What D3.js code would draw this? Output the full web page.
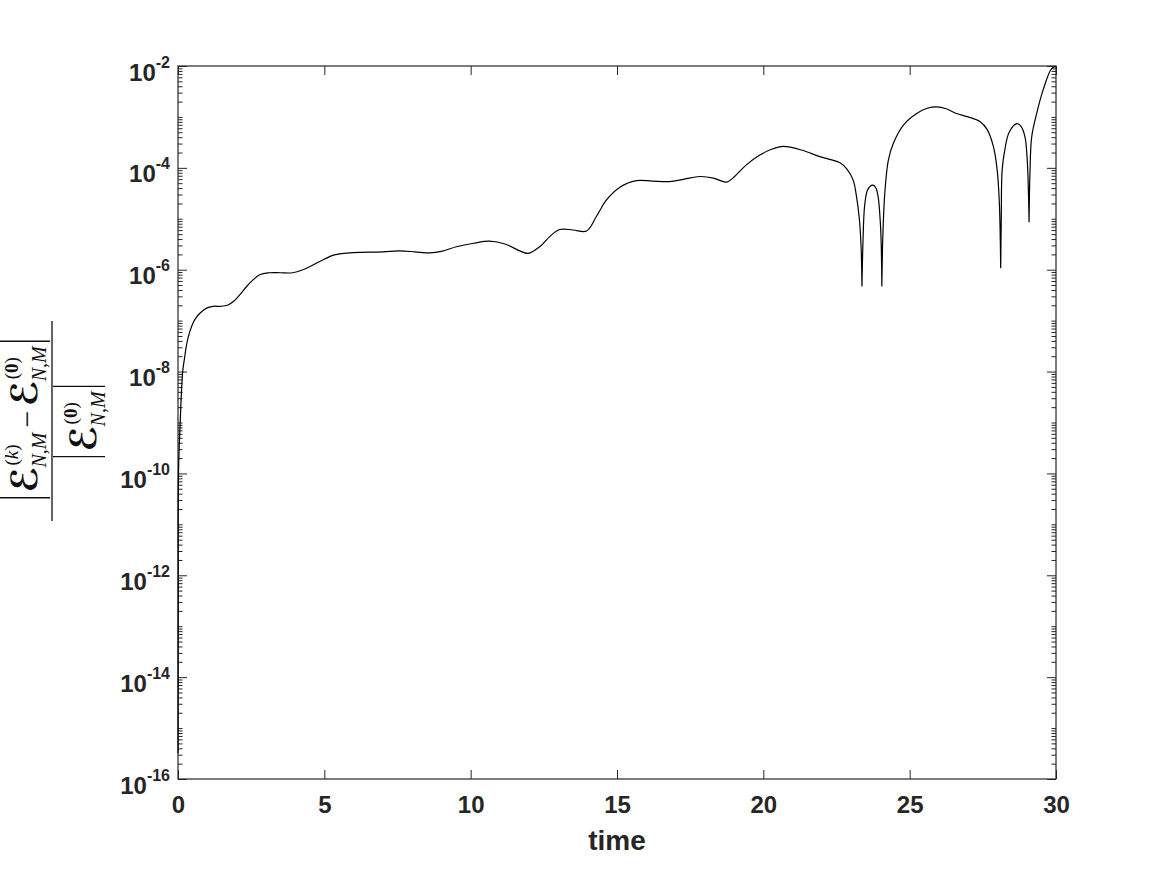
<!DOCTYPE html>
<html><head><meta charset="utf-8">
<script src="https://cdn.jsdelivr.net/npm/d3@7"></script>
<style>body{margin:0;background:#fff} svg{display:block}</style>
</head><body><svg id="c" width="1167" height="875"></svg>
<script>
// ---- data ----
const time = [0.002,0.008,0.017,0.075,0.16,0.22,0.30,0.40,0.51,0.62,0.74,0.96,1.2,1.45,1.69,1.9,2.10,2.39,2.79,3.13,3.5,3.92,4.27,4.84,5.29,5.52,5.86,6.2,7.0,7.57,8.1,8.60,9.0,9.51,10.1,10.65,11.2,11.68,11.96,12.36,12.7,13.04,13.5,13.96,14.3,14.64,15.1,15.66,16.2,16.80,17.3,17.83,18.3,18.74,19.0,19.4,19.88,20.3,20.68,21.3,21.93,22.3,22.62,22.85,23.07,23.18,23.28,23.34,23.37,23.40,23.46,23.55,23.65,23.75,23.85,23.93,24.00,24.03,24.05,24.08,24.15,24.27,24.44,24.8,25.24,25.6,25.92,26.25,26.60,27.0,27.40,27.65,27.86,27.99,28.06,28.09,28.11,28.13,28.16,28.25,28.40,28.66,28.80,28.94,29.01,29.05,29.08,29.11,29.17,29.34,29.56,29.85,30.0];
const relErr = [3.2e-16,3.2e-13,1.0e-10,1.0e-9,1.0e-8,1.78e-8,3.55e-8,6.03e-8,8.91e-8,1.15e-7,1.38e-7,1.74e-7,1.91e-7,1.91e-7,2.0e-7,2.40e-7,3.16e-7,5.01e-7,7.94e-7,8.71e-7,8.71e-7,8.71e-7,1.0e-6,1.45e-6,1.91e-6,2.04e-6,2.14e-6,2.19e-6,2.24e-6,2.34e-6,2.24e-6,2.14e-6,2.29e-6,2.82e-6,3.31e-6,3.63e-6,3.16e-6,2.34e-6,2.09e-6,2.82e-6,4.47e-6,6.17e-6,6.03e-6,5.75e-6,1.12e-5,2.34e-5,4.17e-5,5.62e-5,5.50e-5,5.37e-5,6.03e-5,6.76e-5,6.31e-5,5.25e-5,6.61e-5,1.12e-4,1.78e-4,2.34e-4,2.63e-4,2.24e-4,1.66e-4,1.45e-4,1.26e-4,9.55e-5,5.75e-5,2.82e-5,1.0e-5,2.82e-6,4.68e-7,2.82e-6,1.78e-5,3.55e-5,4.37e-5,4.57e-5,3.98e-5,2.51e-5,7.94e-6,2.82e-6,4.68e-7,3.98e-6,3.16e-5,1.41e-4,3.02e-4,7.08e-4,1.17e-3,1.48e-3,1.58e-3,1.45e-3,1.17e-3,1.0e-3,8.13e-4,5.62e-4,2.63e-4,9.12e-5,2.34e-5,6.31e-6,1.07e-6,1.0e-5,9.12e-5,2.24e-4,5.01e-4,7.41e-4,6.61e-4,4.07e-4,1.66e-4,5.01e-5,8.51e-6,7.94e-5,4.07e-4,1.17e-3,3.39e-3,8.91e-3,9.8e-3];
const cuspTimes = [23.37, 24.05, 28.11, 29.08];
const xTicks = [0,5,10,15,20,25,30];
const yTickExps = [-16,-14,-12,-10,-8,-6,-4,-2];
const xLabel = "time";

// ---- layout ----
const M = {left:178, top:66, right:1056, bottom:779};
const W = M.right - M.left, H = M.bottom - M.top;
const ink = "#262626";
const svg = d3.select("#c");
const x = d3.scaleLinear().domain([0,30]).range([0,W]);
const y = d3.scaleLog().domain([1e-16,1e-2]).range([H,0]);
const g = svg.append("g").attr("transform",`translate(${M.left},${M.top})`);

const majorY = yTickExps.map(e => Math.pow(10,e));
const minorY = [];
for (let e=-16; e<-2; e++) for (let k=1; k<=9; k++) {
  if (k===1 && e%2===0) continue;
  minorY.push(k*Math.pow(10,e));
}

function styleAxis(sel){
  sel.select(".domain").remove();
  sel.selectAll("line").attr("stroke",ink).attr("stroke-width",1);
}
// minor ticks
g.append("g").call(d3.axisLeft(y).tickValues(minorY).tickSizeInner(-4.5).tickSizeOuter(0).tickFormat("")).call(styleAxis);
g.append("g").attr("transform",`translate(${W},0)`).call(d3.axisRight(y).tickValues(minorY).tickSizeInner(-4.5).tickSizeOuter(0).tickFormat("")).call(styleAxis);
// major y ticks
const yAx = g.append("g").call(d3.axisLeft(y).tickValues(majorY).tickSizeInner(-9).tickSizeOuter(0).tickPadding(8)).call(styleAxis);
g.append("g").attr("transform",`translate(${W},0)`).call(d3.axisRight(y).tickValues(majorY).tickSizeInner(-9).tickSizeOuter(0).tickFormat("")).call(styleAxis);
yAx.selectAll(".tick text").each(function(d){
  const t = d3.select(this);
  const e = Math.round(Math.log10(d));
  t.text(null).attr("dy",null).attr("y",14)
   .attr("fill",ink).attr("font-family","'Liberation Sans',Arial,sans-serif").attr("font-weight","bold").attr("font-size",24);
  t.append("tspan").text("10");
  t.append("tspan").attr("dy",-13).attr("font-size",16).text(String(e));
});
// x ticks
const xAx = g.append("g").attr("transform",`translate(0,${H})`).call(d3.axisBottom(x).tickValues(xTicks).tickSizeInner(-9).tickSizeOuter(0).tickPadding(0)).call(styleAxis);
xAx.selectAll(".tick text").attr("dy",null).attr("y",34).attr("fill",ink)
  .attr("font-family","'Liberation Sans',Arial,sans-serif").attr("font-weight","bold").attr("font-size",24);
g.append("g").call(d3.axisTop(x).tickValues(xTicks).tickSizeInner(-9).tickSizeOuter(0).tickFormat("")).call(styleAxis);

// box
g.append("rect").attr("width",W).attr("height",H).attr("fill","none").attr("stroke",ink).attr("stroke-width",1.2);

// curve: split at cusp points so the tips stay sharp
const pts = time.map((t,i)=>[t,relErr[i]]);
const cuspIdx = cuspTimes.map(c => time.indexOf(c));
const segs = []; let s0 = 0;
cuspIdx.forEach(ci => { segs.push(pts.slice(s0, ci+1)); s0 = ci; });
segs.push(pts.slice(s0));
const line = d3.line().x(d=>x(d[0])).y(d=>y(d[1])).curve(d3.curveCatmullRom.alpha(0.5));
g.append("path").attr("d", segs.map(sg=>line(sg)).join(""))
  .attr("fill","none").attr("stroke","#000").attr("stroke-width",1.2).attr("stroke-linejoin","round");

// x label
svg.append("text").attr("x",(M.left+M.right)/2).attr("y",850).attr("text-anchor","middle")
  .attr("fill",ink).attr("font-family","'Liberation Sans',Arial,sans-serif").attr("font-weight","bold").attr("font-size",28).text(xLabel);

// y label: |E^(k)_{N,M} - E^(0)_{N,M}| / |E^(0)_{N,M}|, rotated
const lab = svg.append("g").attr("transform","translate(52,421) rotate(-90)").attr("fill","#111");
const cal = "'DejaVu Serif','DejaVu Sans',serif", rom = "'Liberation Serif','DejaVu Serif',serif";
function piece(txt, size, fam, extra){
  const t = lab.append("text").attr("font-size",size).attr("font-family",fam);
  if (extra) extra(t); else t.text(txt);
  return t;
}
function term(list, baseY, supTxt, supItalic){
  const E = piece("\u2130", 36, cal, t=>t.attr("font-weight","bold").text("\u2130"));
  const sup = piece(null, 19, rom, t=>{
    t.append("tspan").text("(");
    t.append("tspan").attr("font-style",supItalic?"italic":"normal").attr("font-weight",supItalic?"normal":"bold").text(supTxt);
    t.append("tspan").text(")");
  });
  const sub = piece(null, 20, rom, t=>{
    t.append("tspan").attr("font-style","italic").text("N");
    t.append("tspan").text(",");
    t.append("tspan").attr("font-style","italic").text("M");
  });
  list.push({el:E, w:E.node().getComputedTextLength(), y:baseY, adv:true});
  const ws = sup.node().getComputedTextLength(), wb = sub.node().getComputedTextLength();
  list.push({el:sup, w:ws, y:baseY-19, adv:false, dx:1});
  list.push({el:sub, w:wb, y:baseY+9, adv:true, dx:-1, wmax:Math.max(ws,wb)});
}
function layout(list, center){
  let pos = 0, positions = [];
  list.forEach(it=>{
    positions.push(pos + (it.dx||0) + (it.pre||0));
    if (it.adv) pos += (it.pre||0) + (it.wmax!==undefined ? it.wmax : it.w);
  });
  const total = pos, left = center - total/2;
  list.forEach((it,i)=> it.el.attr("x", left+positions[i]).attr("y", it.y));
  return [left, left+total];
}
// numerator
const num = [];
term(num, -15, "k", true);
const minus = piece("\u2212", 30, rom);
num.push({el:minus, w:minus.node().getComputedTextLength(), y:-15, adv:true, pre:4});
num[num.length-1].w += 4;
term(num, -15, "0", false);
const [nl, nr] = layout(num, 2);
// denominator
const den = [];
term(den, 44, "0", false);
const [dl, dr] = layout(den, 0);
const bar = (x1,y1,x2,y2,w)=>lab.append("line").attr("x1",x1).attr("y1",y1).attr("x2",x2).attr("y2",y2).attr("stroke","#111").attr("stroke-width",w||1.3);
bar(-100,0,100,0,1.3);
bar(nl-5,-52,nl-5,-2); bar(nr+4,-52,nr+4,-2);
bar(dl-5,1,dl-5,53); bar(dr+4,1,dr+4,53);
</script></body></html>
